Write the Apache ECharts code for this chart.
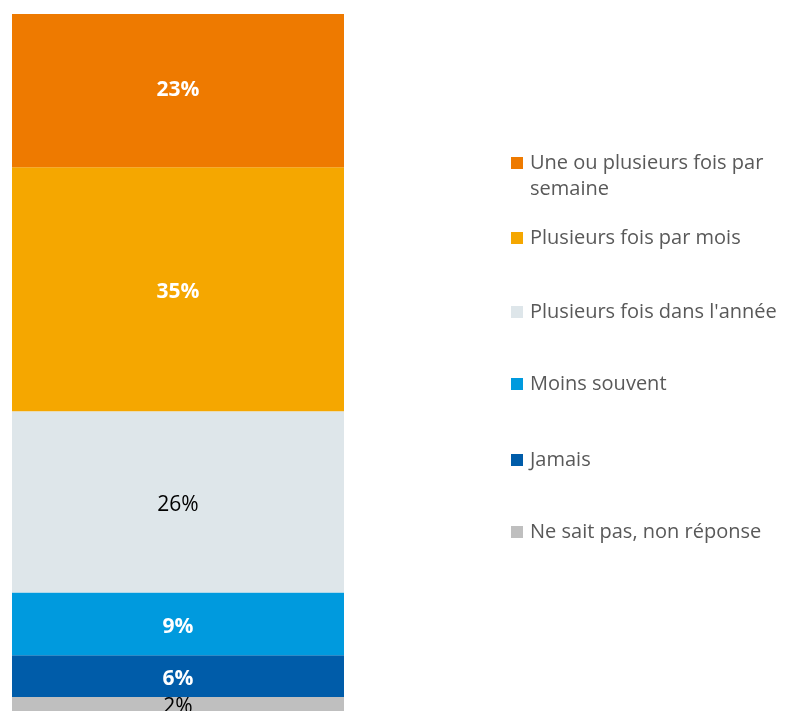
<!DOCTYPE html>
<html lang="fr">
<head>
    <meta charset="UTF-8">
    <title>Fréquence</title>
    <style>
        *{ margin: 0; padding: 0; }
        html, body{ height: 100%; width: 100%; background: #fff; }
        #chart{ width: 786px; height: 711px; }
    </style>
</head>
<body>
<div id="chart"></div>
<script src="https://cdn.jsdelivr.net/npm/echarts@6/dist/echarts.min.js"></script>
<script>
    // stacked from bottom to top
    var names = ['Ne sait pas, non réponse', 'Jamais', 'Moins souvent',
        "Plusieurs fois dans l'année", 'Plusieurs fois par mois', 'Une ou plusieurs fois par semaine'];
    var values = [2, 6, 9, 26, 35, 23];
    var colors = ['#BFBFBF', '#005CA9', '#009ADE', '#DEE6EA', '#F5A700', '#EE7A00'];
    var labelColors = ['#000', '#fff', '#fff', '#000', '#fff', '#fff'];
    var labelWeights = ['normal', 'bold', 'bold', 'normal', 'bold', 'bold'];
    // legend rows, top to bottom (centre y of each row)
    var legendRows = [163, 238, 312, 384, 460, 532];

    var chart = echarts.init(document.getElementById('chart'));
    var font = '"Open Sans", "Noto Sans", sans-serif';

    var series = [];
    for (var i = 0; i < names.length; i++) {
        series.push({
            name: names[i],
            type: 'bar',
            stack: 'total',
            barWidth: '100%',
            data: [values[i]],
            itemStyle: { color: colors[i] },
            label: {
                show: true,
                position: 'inside',
                offset: [0, i === names.length - 1 ? -1 : 3],
                formatter: '{c}%',
                color: labelColors[i],
                fontWeight: labelWeights[i],
                fontSize: 21,
                fontFamily: font
            }
        });
    }

    var legends = [];
    for (var j = 0; j < names.length; j++) {
        var name = names[names.length - 1 - j];
        legends.push({
            data: [name],
            left: 511,
            top: legendRows[j] - 10,
            padding: 0,
            icon: 'rect',
            itemWidth: 12,
            itemHeight: 12,
            itemGap: 0,
            selectedMode: false,
            formatter: function (n) {
                return n === 'Une ou plusieurs fois par semaine' ? 'Une ou plusieurs fois par' : n;
            },
            textStyle: { color: '#595959', fontSize: 20, fontFamily: font, padding: [0, 0, 0, 2] }
        });
    }

    var option = {
        animation: false,
        grid: { left: 12, width: 332, top: 14, bottom: -1 },
        xAxis: { type: 'category', data: [''], show: false },
        yAxis: { type: 'value', min: 0, max: 100, show: false },
        legend: legends,
        graphic: [{
            type: 'text',
            left: 530,
            top: 179,
            style: { text: 'semaine', fill: '#595959', font: '20px ' + font }
        }],
        series: series
    };
    chart.setOption(option);
</script>
</body>
</html>
